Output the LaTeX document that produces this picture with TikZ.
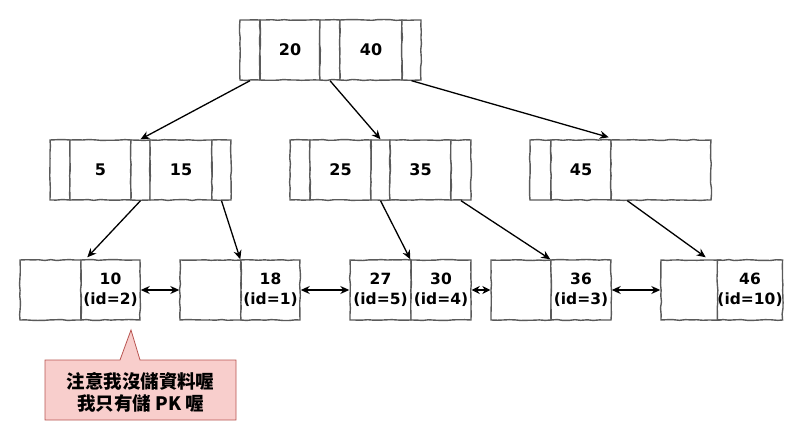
\documentclass[tikz,border=0pt]{standalone}
\usepackage{fontspec}
\setmainfont{DejaVu Sans}
\newfontfamily\cjk{Noto Sans CJK TC}
\usetikzlibrary{arrows.meta,calc,decorations.pathmorphing}
\definecolor{edgegray}{HTML}{5A5A5A}
\definecolor{notefill}{HTML}{F8CECC}
\definecolor{noteline}{HTML}{B85450}
\tikzset{
  cell/.style={draw=edgegray, line width=1.4pt, fill=white, inner sep=0pt,
    minimum height=60pt, decorate,
    decoration={random steps, segment length=6pt, amplitude=0.5pt}},
  keytext/.style={font=\fontsize{16}{18}\selectfont\bfseries},
  leaftext/.style={font=\fontsize{15.5}{20}\selectfont\bfseries, align=center},
  arr/.style={draw=black, line width=1.3pt, -{Stealth[length=9pt,width=8pt]}},
  darr/.style={draw=black, line width=1.3pt, {Stealth[length=9pt,width=8pt]}-{Stealth[length=9pt,width=8pt]}}
}
\begin{document}
\begin{tikzpicture}[x=1pt,y=-1pt]
\useasboundingbox (0,0) rectangle (801,441);
% root
\node[cell, minimum width=20pt] (r0) at (250,50) {};
\node[cell, minimum width=60pt, keytext] (r1) at (290,50) {20};
\node[cell, minimum width=20pt] (r2) at (330,50) {};
\node[cell, minimum width=62pt, keytext] (r3) at (371,50) {40};
\node[cell, minimum width=19pt] (r4) at (411.5,50) {};
% level 2 left
\node[cell, minimum width=20pt] (a0) at (60,170) {};
\node[cell, minimum width=61pt, keytext] (a1) at (100.5,170) {5};
\node[cell, minimum width=19pt] (a2) at (140.5,170) {};
\node[cell, minimum width=62pt, keytext] (a3) at (181,170) {15};
\node[cell, minimum width=19pt] (a4) at (221.5,170) {};
% level 2 middle
\node[cell, minimum width=20pt] (b0) at (300,170) {};
\node[cell, minimum width=61pt, keytext] (b1) at (340.5,170) {25};
\node[cell, minimum width=19pt] (b2) at (380.5,170) {};
\node[cell, minimum width=61pt, keytext] (b3) at (420.5,170) {35};
\node[cell, minimum width=20pt] (b4) at (461,170) {};
% level 2 right
\node[cell, minimum width=21pt] (c0) at (540.5,170) {};
\node[cell, minimum width=60pt, keytext] (c1) at (581,170) {45};
\node[cell, minimum width=100pt] (c2) at (661,170) {};
% leaves
\node[cell, minimum width=61pt] (l1a) at (50.5,290) {};
\node[cell, minimum width=59pt, leaftext] (l1b) at (110.5,290) {10\\(id=2)};
\node[cell, minimum width=61pt] (l2a) at (210.5,290) {};
\node[cell, minimum width=59pt, leaftext] (l2b) at (270.5,290) {18\\(id=1)};
\node[cell, minimum width=61pt, leaftext] (l3a) at (380.5,290) {27\\(id=5)};
\node[cell, minimum width=60pt, leaftext] (l3b) at (441,290) {30\\(id=4)};
\node[cell, minimum width=60pt] (l4a) at (521,290) {};
\node[cell, minimum width=60pt, leaftext] (l4b) at (581,290) {36\\(id=3)};
\node[cell, minimum width=60pt] (l5a) at (691,290) {};
\node[cell, minimum width=58pt, leaftext] (l5b) at (750,290) {46\\(id=10)};
% tree arrows
\draw[arr] (r0.south) -- (a2.north);
\draw[arr] (r2.south) -- (b2.north);
\draw[arr] (r4.south) -- ($(c1.north east)+(-3,-2)$);
\draw[arr] (a2.south) -- ($(l1b.north west)+(7,-2)$);
\draw[arr] (a4.south) -- (l2b.north west);
\draw[arr] (b2.south) -- (l3b.north west);
\draw[arr] (b4.south) -- (l4b.north west);
\draw[arr] ($(c2.south west)+(17,0)$) -- ($(l5a.north east)+(-16,-2)$);
% leaf links
\draw[darr] (l1b.east) -- (l2a.west);
\draw[darr] (l2b.east) -- (l3a.west);
\draw[darr, {Stealth[length=8pt,width=8pt]}-{Stealth[length=8pt,width=8pt]}] (l3b.east) -- (l4a.west);
\draw[darr] (l4b.east) -- (l5a.west);
% callout
\draw[fill=notefill, draw=noteline, line width=0.8pt]
  (45,360) -- (120,360) -- (131,330) -- (140,360) -- (236,360) -- (236,420) -- (45,420) -- cycle;
\node[font=\cjk\bfseries\fontsize{18.5}{22}\selectfont, align=center] (note) at (140.5,392)
  {注意我沒儲資料喔\\我只有儲 PK 喔};
\end{tikzpicture}
\end{document}
